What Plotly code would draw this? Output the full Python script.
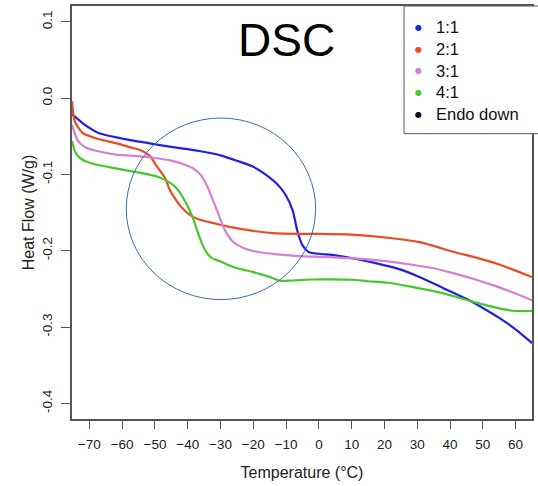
import plotly.graph_objects as go

# ---- data ----
series_names = ["1:1", "2:1", "3:1", "4:1"]
series_colors = ["#2020e6", "#ee4a22", "#d47fd4", "#44c82a"]
legend_labels = series_names + ["Endo down"]
legend_colors = series_colors + ["#000000"]

t_11 = [-75.3, -72, -67, -60, -52, -45, -37, -30, -25, -20, -16, -12, -10, -8, -6.6, -5, -3, 0, 5, 11, 17, 24, 31, 38, 45, 50, 55, 60, 65]
hf_11 = [-0.021, -0.033, -0.046, -0.053, -0.059, -0.064, -0.069, -0.075, -0.082, -0.090, -0.101, -0.116, -0.128, -0.147, -0.1735, -0.193, -0.202, -0.204, -0.206, -0.2105, -0.216, -0.2235, -0.235, -0.249, -0.263, -0.275, -0.288, -0.303, -0.321]

t_21 = [-75.3, -74.5, -72, -67, -62, -57, -54, -51.5, -49.5, -47, -45.5, -43.5, -41.5, -39, -36.5, -32, -28, -20, -14, -6, 0, 10, 21, 31, 41.5, 48, 55, 65]
hf_21 = [-0.004, -0.030, -0.046, -0.054, -0.059, -0.065, -0.069, -0.076, -0.089, -0.104, -0.120, -0.134, -0.145, -0.154, -0.159, -0.164, -0.168, -0.174, -0.177, -0.178, -0.178, -0.179, -0.183, -0.189, -0.202, -0.209, -0.218, -0.2345]

t_31 = [-75.3, -73.5, -71, -67, -62, -57, -50, -45, -40.5, -38, -36, -34, -32.5, -31, -29.5, -28, -26.5, -25, -22, -18, -12, -6, 0, 6, 14, 21, 28, 35, 41.5, 48, 55, 60, 65]
hf_31 = [-0.035, -0.056, -0.065, -0.070, -0.074, -0.0755, -0.0785, -0.082, -0.088, -0.093, -0.101, -0.116, -0.132, -0.148, -0.165, -0.178, -0.187, -0.192, -0.198, -0.202, -0.205, -0.207, -0.208, -0.209, -0.211, -0.214, -0.218, -0.223, -0.230, -0.238, -0.248, -0.256, -0.265]

t_41 = [-75.3, -74.5, -73, -71, -67, -62, -57, -52, -48.5, -45, -43, -41.5, -40, -38.5, -37, -35.5, -34, -32.5, -30, -27.5, -24, -20, -16, -14, -12, -8, -4, 0, 4, 10, 15, 21, 28, 35, 41.5, 48, 55, 60, 65]
hf_41 = [-0.056, -0.069, -0.078, -0.083, -0.088, -0.092, -0.096, -0.100, -0.104, -0.112, -0.120, -0.130, -0.142, -0.156, -0.175, -0.192, -0.204, -0.210, -0.214, -0.219, -0.224, -0.228, -0.233, -0.236, -0.2395, -0.239, -0.238, -0.2375, -0.2375, -0.238, -0.240, -0.242, -0.247, -0.253, -0.260, -0.268, -0.2755, -0.279, -0.279]

x_ticks = [-70, -60, -50, -40, -30, -20, -10, 0, 10, 20, 30, 40, 50, 60]
y_ticks = [0.1, 0.0, -0.1, -0.2, -0.3, -0.4]
y_tick_labels = ["0.1", "0.0", "-0.1", "-0.2", "-0.3", "-0.4"]

# highlight ellipse (data coords)
circle_t = [-58.75, -1.0]
circle_hf = [-0.264, -0.0261]

FONT = "Liberation Sans, Arial, Helvetica, sans-serif"
AXIS_COLOR = "#555555"
W, H = 538, 486
ML, MR, MT, MB = 72, 4, 5, 67
PW, PH = W - ML - MR, H - MT - MB


def px_x(p):
    return (p - ML) / PW


def px_y(p):
    return 1 - (p - MT) / PH


fig = go.Figure()
all_t = [t_11, t_21, t_31, t_41]
all_hf = [hf_11, hf_21, hf_31, hf_41]
for name, col, t, hf in zip(series_names, series_colors, all_t, all_hf):
    fig.add_trace(go.Scatter(x=t, y=hf, mode="lines", name=name,
                             line=dict(color=col, width=2.2, shape="spline", smoothing=0.6),
                             showlegend=False, hoverinfo="skip"))

fig.add_shape(type="circle", xref="x", yref="y",
              x0=circle_t[0], x1=circle_t[1], y0=circle_hf[0], y1=circle_hf[1],
              line=dict(color="#3a6ab4", width=1))

# legend box (R-style)
fig.add_shape(type="rect", xref="paper", yref="paper",
              x0=px_x(405.5), x1=px_x(545), y0=px_y(133), y1=px_y(5),
              line=dict(color=AXIS_COLOR, width=1), fillcolor="white", layer="above")
for i, (lab, col) in enumerate(zip(legend_labels, legend_colors)):
    yc = px_y(26.5 + i * 21.7)
    fig.add_annotation(text="●", xref="paper", yref="paper", x=px_x(420), y=yc,
                       xanchor="center", yanchor="middle", showarrow=False,
                       font=dict(family="DejaVu Sans", size=8, color=col))
    fig.add_annotation(text=lab, xref="paper", yref="paper", x=px_x(435.5), y=yc,
                       xanchor="left", yanchor="middle", showarrow=False,
                       font=dict(family=FONT, size=16.5, color="#111111"))

fig.add_annotation(text="DSC", xref="paper", yref="paper", x=px_x(287), y=px_y(39),
                   xanchor="center", yanchor="middle", showarrow=False,
                   font=dict(family=FONT, size=46, color="#000000"))

fig.update_layout(
    width=W, height=H,
    margin=dict(l=ML, r=MR, t=MT, b=MB),
    paper_bgcolor="white", plot_bgcolor="white",
    font=dict(family=FONT, color="#222222"),
    showlegend=False,
)
fig.update_xaxes(range=[-75.3, 65.0], tickvals=x_ticks, ticks="outside", ticklen=8,
                 tickwidth=1.3, tickcolor=AXIS_COLOR, showgrid=False, zeroline=False,
                 showline=True, linecolor=AXIS_COLOR, linewidth=1.5, mirror=True,
                 tickfont=dict(size=13.5, color="#222222"), ticklabelstandoff=4,
                 title=dict(text="Temperature (°C)", font=dict(size=16, color="#222222"), standoff=16))
fig.update_yaxes(range=[-0.4205, 0.1207], tickvals=y_ticks, ticktext=y_tick_labels,
                 tickangle=-90, ticks="outside", ticklen=9,
                 tickwidth=1.3, tickcolor=AXIS_COLOR, showgrid=False, zeroline=False,
                 showline=True, linecolor=AXIS_COLOR, linewidth=1.5, mirror=True,
                 tickfont=dict(size=13.5, color="#222222"), ticklabelstandoff=4,
                 title=dict(text="Heat Flow (W/g)", font=dict(size=16, color="#222222"), standoff=1))

fig.write_html("out.html")
